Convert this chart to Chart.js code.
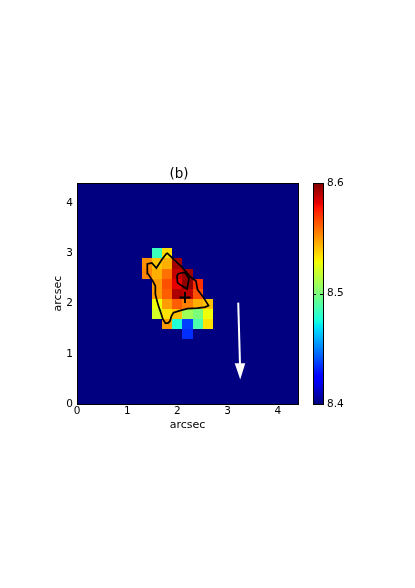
<!DOCTYPE html>
<html>
<head>
<meta charset="utf-8">
<script src="https://cdn.jsdelivr.net/npm/chart.js@4.4.1/dist/chart.umd.min.js"></script>
<style>
  html, body { margin: 0; padding: 0; background: #fff; }
  canvas { display: block; }
</style>
</head>
<body>
<canvas id="map" width="415" height="588"></canvas>
<script>
// ---- data ----
const axisTicks = [0, 1, 2, 3, 4];
const colorTicks = [8.4, 8.5, 8.6];
const colorMin = 8.4;
const colorMax = 8.6;
const pixelSize = 0.2;          // arcsec per map pixel
const backgroundValue = 8.4;    // everything outside the patch
const colCenters = [1.4, 1.6, 1.8, 2.0, 2.2, 2.4, 2.6];
const rowCenters = [3.0, 2.8, 2.6, 2.4, 2.2, 2.0, 1.8, 1.6, 1.4];
const patchValues = [
    [null, 8.484, 8.535, null, null, null, null],
    [8.552, 8.540, 8.545, 8.594, null, null, null],
    [8.554, 8.545, 8.558, 8.588, 8.595, null, null],
    [null, 8.549, 8.565, 8.582, 8.597, 8.572, null],
    [null, 8.549, 8.562, 8.592, 8.589, 8.565, null],
    [null, 8.528, 8.549, 8.562, 8.555, 8.545, 8.541],
    [null, 8.521, 8.534, 8.541, 8.509, 8.500, 8.528],
    [null, null, 8.549, 8.478, 8.4375, 8.488, 8.534],
    [null, null, null, null, 8.434, null, null]
];
const outerX = [1.79, 2.09, 2.26, 2.37, 2.40, 2.52, 2.62, 2.55, 2.40, 2.20, 2.05, 1.92, 1.88, 1.85, 1.81, 1.76,
                1.71, 1.67, 1.63, 1.60, 1.56, 1.56, 1.51, 1.41, 1.40, 1.49, 1.58, 1.69, 1.79];
const outerY = [3.01, 2.73, 2.53, 2.45, 2.28, 2.12, 1.96, 1.93, 1.91, 1.90, 1.86, 1.82, 1.75, 1.65, 1.61, 1.61,
                1.69, 1.82, 1.93, 2.03, 2.19, 2.35, 2.45, 2.60, 2.79, 2.81, 2.71, 2.88, 3.01];
const innerX = [2.02, 2.15, 2.23, 2.19, 2.08, 2.00, 1.99, 2.02];
const innerY = [2.60, 2.62, 2.50, 2.29, 2.36, 2.42, 2.55, 2.60];
const centreX = [2.15];
const centreY = [2.12];
const arrowShaftX = [3.21, 3.245];
const arrowShaftY = [2.02, 0.80];
const arrowHeadX = [3.14, 3.25, 3.35];
const arrowHeadY = [0.81, 0.49, 0.81];

const FONT = 'DejaVu Sans';

function toPoints(xs, ys) {
    return xs.map((x, i) => ({ x: x, y: ys[i] }));
}

// matplotlib "jet"
const jetRed = [[0, 0], [0.35, 0], [0.66, 1], [0.89, 1], [1, 0.5]];
const jetGreen = [[0, 0], [0.125, 0], [0.375, 1], [0.64, 1], [0.91, 0], [1, 0]];
const jetBlue = [[0, 0.5], [0.11, 1], [0.34, 1], [0.65, 0], [1, 0]];

function interp(table, t) {
    for (let i = 1; i < table.length; i++) {
        if (t <= table[i][0]) {
            const a = table[i - 1], b = table[i];
            return a[1] + (b[1] - a[1]) * (t - a[0]) / (b[0] - a[0]);
        }
    }
    return table[table.length - 1][1];
}

function jet(t) {
    t = Math.max(0, Math.min(1, t));
    const r = Math.round(255 * interp(jetRed, t));
    const g = Math.round(255 * interp(jetGreen, t));
    const b = Math.round(255 * interp(jetBlue, t));
    return `rgb(${r},${g},${b})`;
}

function valueColor(v) {
    return jet((v - colorMin) / (colorMax - colorMin));
}

// map pixels, drawn under the contours
const mapPlugin = {
    id: 'mapPixels',
    beforeDatasetsDraw(chart) {
        const { ctx, chartArea, scales: { x, y } } = chart;
        ctx.save();
        ctx.beginPath();
        ctx.rect(chartArea.left, chartArea.top, chartArea.right - chartArea.left, chartArea.bottom - chartArea.top);
        ctx.clip();
        ctx.fillStyle = valueColor(backgroundValue);
        ctx.fillRect(x.getPixelForValue(x.min), y.getPixelForValue(y.max),
            x.getPixelForValue(x.max) - x.getPixelForValue(x.min),
            y.getPixelForValue(y.min) - y.getPixelForValue(y.max));
        rowCenters.forEach((cy, r) => {
            colCenters.forEach((cx, c) => {
                const v = patchValues[r][c];
                if (v === null) return;
                const x0 = x.getPixelForValue(cx - pixelSize / 2);
                const x1 = x.getPixelForValue(cx + pixelSize / 2);
                const y0 = y.getPixelForValue(cy + pixelSize / 2);
                const y1 = y.getPixelForValue(cy - pixelSize / 2);
                ctx.fillStyle = valueColor(v);
                ctx.fillRect(Math.round(x0), Math.round(y0), Math.round(x1) - Math.round(x0), Math.round(y1) - Math.round(y0));
            });
        });
        ctx.restore();
    },
    afterDatasetsDraw(chart) {
        const { ctx, chartArea } = chart;
        // arrow head
        const head = chart.getDatasetMeta(chart.data.datasets.findIndex(d => d.arrowHead)).data;
        ctx.save();
        ctx.fillStyle = '#ffffff';
        ctx.beginPath();
        head.forEach((p, i) => i ? ctx.lineTo(p.x, p.y) : ctx.moveTo(p.x, p.y));
        ctx.closePath();
        ctx.fill();
        // frame
        ctx.strokeStyle = '#000';
        ctx.lineWidth = 1;
        ctx.strokeRect(Math.round(chartArea.left) + 0.5, Math.round(chartArea.top) + 0.5,
            Math.round(chartArea.right - chartArea.left), Math.round(chartArea.bottom - chartArea.top));
        ctx.restore();
    },
    afterDraw(chart) {
        // colour bar inside the right-hand scale box
        const { ctx } = chart;
        const cb = chart.scales.cb;
        const x0 = Math.round(cb.left) + 15;
        const w = 10;
        const top = cb.getPixelForValue(colorMax);
        const bottom = cb.getPixelForValue(colorMin);
        const grad = ctx.createLinearGradient(0, bottom, 0, top);
        for (let i = 0; i <= 100; i++) grad.addColorStop(i / 100, jet(i / 100));
        ctx.save();
        ctx.fillStyle = grad;
        ctx.fillRect(x0, top, w, bottom - top);
        ctx.strokeStyle = '#000';
        ctx.lineWidth = 1;
        ctx.strokeRect(x0 + 0.5, Math.round(top) + 0.5, w, Math.round(bottom - top));
        colorTicks.forEach(v => {
            const py = Math.round(cb.getPixelForValue(v)) + 0.5;
            ctx.beginPath();
            ctx.moveTo(x0, py); ctx.lineTo(x0 + 3, py);
            ctx.moveTo(x0 + w, py); ctx.lineTo(x0 + w - 3, py);
            ctx.stroke();
        });
        ctx.restore();
    }
};

const tickFont = { family: FONT, size: 10.5 };
const titleFont = { family: FONT, size: 11 };

new Chart(document.getElementById('map'), {
    type: 'scatter',
    data: {
        datasets: [
            {
                data: toPoints(outerX, outerY),
                showLine: true, borderColor: '#000', borderWidth: 1.7, pointRadius: 0, tension: 0
            },
            {
                data: toPoints(innerX, innerY),
                showLine: true, borderColor: '#000', borderWidth: 1.7, pointRadius: 0, tension: 0
            },
            {
                data: toPoints(centreX, centreY),
                pointStyle: 'cross', pointRadius: 5.5, borderColor: '#000', borderWidth: 2
            },
            {
                data: toPoints(arrowShaftX, arrowShaftY),
                showLine: true, borderColor: '#fff', borderWidth: 2, pointRadius: 0
            },
            {
                arrowHead: true,
                data: toPoints(arrowHeadX, arrowHeadY),
                showLine: false, pointRadius: 0
            }
        ]
    },
    options: {
        responsive: false,
        animation: false,
        devicePixelRatio: 1,
        layout: { padding: { top: 166, left: 0, right: 57, bottom: 154 } },
        plugins: {
            legend: { display: false },
            tooltip: { enabled: false },
            title: {
                display: true,
                text: '(b)',
                color: '#000',
                font: { family: FONT, size: 13.5, weight: 'normal' },
                padding: { top: 0, bottom: 1 }
            }
        },
        scales: {
            x: {
                type: 'linear', position: 'bottom', min: 0, max: 4.4,
                afterBuildTicks: s => { s.ticks = axisTicks.map(v => ({ value: v })); },
                afterFit: s => { s.height = 30; },
                grid: { display: false, drawTicks: false },
                border: { display: false },
                ticks: { color: '#000', font: tickFont, padding: 1 },
                title: { display: true, text: 'arcsec', color: '#000', font: titleFont, padding: { top: 0, bottom: 2.7 } }
            },
            y: {
                type: 'linear', position: 'left', min: 0, max: 4.4,
                afterBuildTicks: s => { s.ticks = axisTicks.map(v => ({ value: v })); },
                afterFit: s => { s.width = 77; },
                grid: { display: false, drawTicks: false },
                border: { display: false },
                ticks: { color: '#000', font: tickFont, padding: 4 },
                title: { display: true, text: 'arcsec', color: '#000', font: titleFont, padding: { top: 52, bottom: 0 } }
            },
            cb: {
                type: 'linear', position: 'right', min: colorMin, max: colorMax,
                afterBuildTicks: s => { s.ticks = colorTicks.map(v => ({ value: v })); },
                afterFit: s => { s.width = 60; },
                grid: { display: false, drawTicks: false },
                border: { display: false },
                ticks: { color: '#000', font: tickFont, padding: 29, callback: v => v.toFixed(1) }
            }
        }
    },
    plugins: [mapPlugin]
});
</script>
</body>
</html>
